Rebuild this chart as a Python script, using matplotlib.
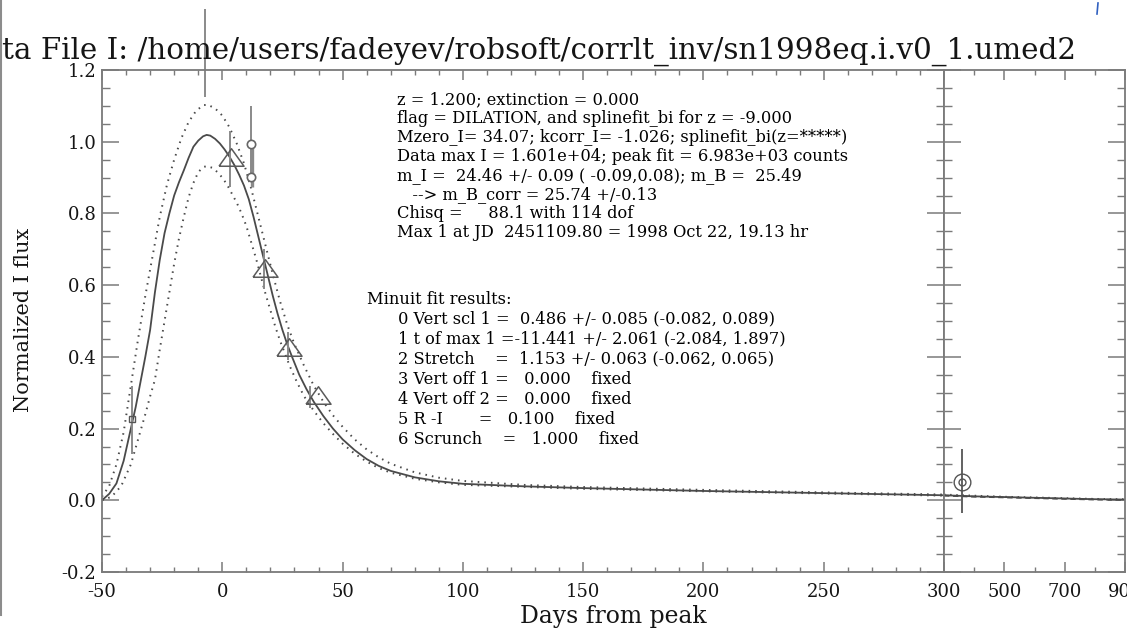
import matplotlib
matplotlib.use("Agg")
import matplotlib.pyplot as plt
from matplotlib.lines import Line2D
from matplotlib.ticker import MultipleLocator, FixedLocator

# ---------------- data ----------------
fit_days = [-50, -47, -44, -41, -38, -36, -34, -32, -30, -28, -26, -24, -22, -20, -18, -16,
            -14, -12, -10, -8, -6.5, -5, -3, -1, 1, 3, 5, 7, 9, 11, 13, 15, 17, 19, 21, 23,
            25, 27, 29, 32, 35, 38, 42, 46, 50, 55, 60, 65, 70, 80, 90, 100, 125, 150, 175,
            200, 225, 250, 275, 300]
fit_flux = [0.000, 0.018, 0.047, 0.11, 0.20, 0.26, 0.33, 0.40, 0.475, 0.58, 0.67, 0.745,
            0.80, 0.85, 0.887, 0.92, 0.955, 0.986, 1.003, 1.015, 1.019, 1.017, 1.008, 0.995,
            0.978, 0.958, 0.935, 0.908, 0.878, 0.84, 0.79, 0.735, 0.68, 0.625, 0.57, 0.52,
            0.475, 0.435, 0.40, 0.35, 0.31, 0.275, 0.235, 0.20, 0.17, 0.14, 0.115, 0.096,
            0.082, 0.064, 0.053, 0.046, 0.039, 0.034, 0.030, 0.026, 0.023, 0.020, 0.017, 0.014]

upper_days = [-50, -47, -44, -41, -38, -35, -32, -29, -26, -23, -20, -17, -14, -11, -8, -6,
              -3, 0, 3, 6, 9, 12, 15, 18, 21, 24, 27, 30, 34, 38, 42, 46, 50, 55, 60, 65, 70,
              80, 90, 100, 125, 150, 200, 250, 300]
upper_flux = [0.01, 0.04, 0.10, 0.19, 0.32, 0.45, 0.57, 0.68, 0.79, 0.88, 0.95, 1.01, 1.055,
              1.085, 1.102, 1.103, 1.093, 1.073, 1.04, 0.995, 0.94, 0.87, 0.79, 0.71, 0.63,
              0.555, 0.49, 0.435, 0.375, 0.32, 0.275, 0.237, 0.205, 0.17, 0.142, 0.12, 0.102,
              0.078, 0.063, 0.054, 0.043, 0.037, 0.029, 0.022, 0.016]

lower_days = [-50, -46, -42, -38, -35, -32, -30, -28, -26, -24, -22, -20, -18, -16, -14, -12,
              -10, -8, -6.5, -4, -2, 0, 2, 4, 6, 8, 10, 12, 14, 16, 18, 20, 22, 24, 26, 28, 31,
              34, 38, 42, 46, 50, 55, 60, 65, 70, 80, 90, 100, 150, 200, 250, 300]
lower_flux = [0.0, 0.01, 0.04, 0.10, 0.17, 0.24, 0.29, 0.336, 0.42, 0.50, 0.58, 0.66, 0.73,
              0.79, 0.845, 0.885, 0.915, 0.929, 0.932, 0.927, 0.915, 0.90, 0.88, 0.855, 0.83,
              0.80, 0.765, 0.72, 0.675, 0.625, 0.575, 0.53, 0.485, 0.445, 0.41, 0.375, 0.33,
              0.29, 0.25, 0.215, 0.185, 0.158, 0.13, 0.108, 0.09, 0.077, 0.06, 0.05, 0.043,
              0.032, 0.025, 0.019, 0.013]

tail_days = [300, 400, 500, 600, 700, 800, 900]
tail_fit = [0.014, 0.011, 0.009, 0.007, 0.005, 0.003, 0.002]
tail_upper = [0.016, 0.013, 0.010, 0.008, 0.006, 0.004, 0.003]
tail_lower = [0.013, 0.010, 0.008, 0.006, 0.004, 0.002, 0.001]

tri_days = [3.6, 17.7, 27.7, 39.8]
tri_flux = [0.958, 0.648, 0.428, 0.294]

err_days = [-37.5, -7.2, 3.2, 11.9, 17.5, 27.5, 36.4]
err_lo = [0.13, 1.125, 0.874, 0.89, 0.59, 0.39, 0.257]
err_hi = [0.32, 1.37, 1.03, 1.10, 0.70, 0.47, 0.32]

sq_days = [-37.5]
sq_flux = [0.227]
circ_days = [11.9, 11.9]
circ_flux = [0.994, 0.902]
late_day = [360]
late_flux = [0.051]
late_lo = [-0.035]
late_hi = [0.143]

title_text = "ta File I: /home/users/fadeyev/robsoft/corrlt_inv/sn1998eq.i.v0_1.umed2"
info_lines = [
    "z = 1.200; extinction = 0.000",
    "flag = DILATION, and splinefit_bi for z = -9.000",
    "Mzero_I= 34.07; kcorr_I= -1.026; splinefit_bi(z=*****)",
    "Data max I = 1.601e+04; peak fit = 6.983e+03 counts",
    "m_I =  24.46 +/- 0.09 ( -0.09,0.08); m_B =  25.49",
    "   --> m_B_corr = 25.74 +/-0.13",
    "Chisq =     88.1 with 114 dof",
    "Max 1 at JD  2451109.80 = 1998 Oct 22, 19.13 hr",
]
minuit_head = "Minuit fit results:"
minuit_lines = [
    "0 Vert scl 1 =  0.486 +/- 0.085 (-0.082, 0.089)",
    "1 t of max 1 =-11.441 +/- 2.061 (-2.084, 1.897)",
    "2 Stretch    =  1.153 +/- 0.063 (-0.062, 0.065)",
    "3 Vert off 1 =   0.000    fixed",
    "4 Vert off 2 =   0.000    fixed",
    "5 R -I       =   0.100    fixed",
    "6 Scrunch    =   1.000    fixed",
]
left_xticks = [-50, 0, 50, 100, 150, 200, 250]
right_xticks = [300, 500, 700, 900]
yticks = [-0.2, 0.0, 0.2, 0.4, 0.6, 0.8, 1.0, 1.2]

# ---------------- figure ----------------
W, H = 1127, 629
FONT = "DejaVu Serif"
plt.rcParams["font.family"] = FONT
fig = plt.figure(figsize=(W / 100, H / 100), dpi=100)


def fx(px):
    return px / W


def fy(py):
    return 1 - py / H


AX_C = "#7a7a7a"
LINE_C = "#4a4a4a"
TXT_C = "#151515"

axL = fig.add_axes([fx(102), fy(572), fx(944) - fx(102), fy(70) - fy(572)])
axR = fig.add_axes([fx(944), fy(572), fx(1125) - fx(944), fy(70) - fy(572)])

for ax in (axL, axR):
    ax.set_ylim(-0.2, 1.2)
    for s in ax.spines.values():
        s.set_color(AX_C)
        s.set_linewidth(1.3)
    ax.yaxis.set_major_locator(FixedLocator(yticks))
    ax.yaxis.set_minor_locator(MultipleLocator(0.05))
    ax.tick_params(axis="y", which="major", direction="in", length=12, width=1.1,
                   color=AX_C, left=True, right=True, labelsize=13, labelcolor=TXT_C, pad=4)
    ax.tick_params(axis="y", which="minor", direction="in", length=6, width=1.0,
                   color=AX_C, left=True, right=True)
    ax.tick_params(axis="x", which="major", direction="in", length=7.5, width=1.1,
                   color=AX_C, bottom=True, top=True, labelsize=13, labelcolor=TXT_C, pad=8)
    ax.tick_params(axis="x", which="minor", direction="in", length=3.8, width=1.0,
                   color=AX_C, bottom=True, top=True)

axL.set_xlim(-50, 300)
axL.xaxis.set_major_locator(FixedLocator(left_xticks + [300]))
axL.xaxis.set_minor_locator(MultipleLocator(10))
axL.set_xticklabels([str(v) for v in left_xticks] + [""])
axL.set_yticklabels(["%.1f" % v if v >= 0 else "-%.1f" % abs(v) for v in yticks])

axR.set_xlim(300, 900)
axR.xaxis.set_major_locator(FixedLocator(right_xticks))
axR.xaxis.set_minor_locator(MultipleLocator(100))
axR.set_xticklabels([str(v) for v in right_xticks])
axR.tick_params(axis="y", labelleft=False)

dot = (0, (0.8, 2.6))
# curves
axL.plot(fit_days, fit_flux, color=LINE_C, lw=1.3)
axL.plot(upper_days, upper_flux, color=LINE_C, lw=1.4, ls=dot)
axL.plot(lower_days, lower_flux, color=LINE_C, lw=1.4, ls=dot)
axR.plot(tail_days, tail_fit, color=LINE_C, lw=1.3)
axR.plot(tail_days, tail_upper, color=LINE_C, lw=1.3, ls=dot)
axR.plot(tail_days, tail_lower, color=LINE_C, lw=1.3, ls=(0, (3, 2)))

# error bars
ERR_C = "#8a8a8a"
axL.vlines(err_days, err_lo, err_hi, color=ERR_C, lw=1.4, clip_on=False)
axL.vlines([12.3], [0.874], [0.985], color=ERR_C, lw=2.4)
axR.vlines(late_day, late_lo, late_hi, color="#555555", lw=1.3)

# markers
tri_marker = [(-1, -0.7), (1, -0.7), (0, 0.7), (-1, -0.7)]
axL.plot(tri_days, tri_flux, ls="none", marker=tri_marker, ms=18, mfc="none",
         mec="#5a5a5a", mew=1.1)
axL.plot(sq_days, sq_flux, ls="none", marker="s", ms=5, mfc="none", mec="#555555", mew=1.0)
axL.plot(circ_days, circ_flux, ls="none", marker="o", ms=6, mfc="white", mec="#666666",
         mew=1.2)
axR.plot(late_day, late_flux, ls="none", marker="o", ms=12, mfc="none", mec="#555555",
         mew=1.0)
axR.plot(late_day, late_flux, ls="none", marker="o", ms=5, mfc="none", mec="#555555",
         mew=1.0)

# texts
title = fig.text(fx(2), fy(59), title_text, ha="left", va="baseline", fontsize=17,
                 color=TXT_C)
info = []
for i, s in enumerate(info_lines):
    info.append(fig.text(fx(397), fy(100 + 18.9 * i), s, ha="left", va="center",
                         fontsize=10, color="#000000"))
mh = fig.text(fx(367), fy(299), minuit_head, ha="left", va="center", fontsize=10,
              color="#000000")
mins = []
for i, s in enumerate(minuit_lines):
    mins.append(fig.text(fx(398), fy(319 + 20 * i), s, ha="left", va="center",
                         fontsize=10, color="#000000"))

xlab = fig.text(fx(613), fy(617), "Days from peak", ha="center", va="center",
                fontsize=13, color=TXT_C)
ylab = fig.text(fx(24), fy(320), "Normalized I flux", ha="center", va="center",
                rotation=90, fontsize=13, color=TXT_C)

# fit text widths to the reference
fig.canvas.draw()
r = fig.canvas.get_renderer()


def fit(t, target, use_height=False):
    bb = t.get_window_extent(r)
    w = bb.height if use_height else bb.width
    t.set_fontsize(t.get_fontsize() * target / w)


fit(title, 1076)
fit(info[3], 450)
fs = info[3].get_fontsize()
for t in info + mins + [mh]:
    t.set_fontsize(fs)
fit(xlab, 186)
fit(ylab, 184, use_height=True)

# page decorations
fig.add_artist(Line2D([fx(1), fx(1)], [fy(0), fy(615)], color="#8c8c8c", lw=1.5))
fig.add_artist(Line2D([fx(1098), fx(1097)], [fy(3), fy(14)], color="#3060c0", lw=1.2))

fig.savefig("out.png", dpi=100)
